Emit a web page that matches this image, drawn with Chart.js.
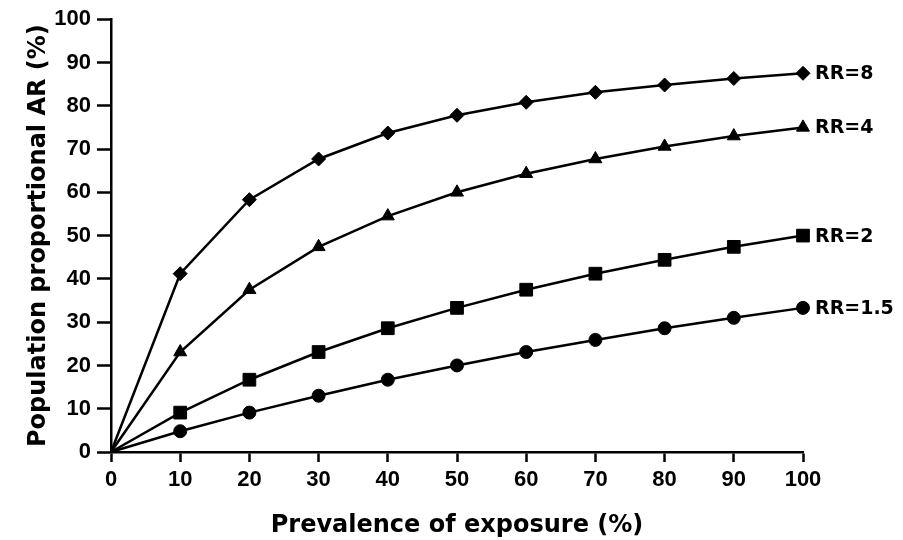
<!DOCTYPE html>
<html>
<head>
<meta charset="utf-8">
<script src="https://cdn.jsdelivr.net/npm/chart.js@4"></script>
<style>
  html, body { margin: 0; padding: 0; background: #fff; }
  #wrap { width: 903px; height: 540px; position: relative; }
</style>
</head>
<body>
<div id="wrap"><canvas id="c" width="903" height="540"></canvas></div>
<script>
const prevalence = [0, 10, 20, 30, 40, 50, 60, 70, 80, 90, 100];
const xTicks = [0, 10, 20, 30, 40, 50, 60, 70, 80, 90, 100];
const yTicks = [0, 10, 20, 30, 40, 50, 60, 70, 80, 90, 100];
const seriesLabels = ['RR=8', 'RR=4', 'RR=2', 'RR=1.5'];
const rr8  = [0, 41.2, 58.3, 67.7, 73.7, 77.8, 80.8, 83.1, 84.8, 86.3, 87.5];
const rr4  = [0, 23.1, 37.5, 47.4, 54.5, 60.0, 64.3, 67.7, 70.6, 73.0, 75.0];
const rr2  = [0, 9.1, 16.7, 23.1, 28.6, 33.3, 37.5, 41.2, 44.4, 47.4, 50.0];
const rr15 = [0, 4.8, 9.1, 13.0, 16.7, 20.0, 23.1, 25.9, 28.6, 31.0, 33.3];

const FONT = "'DejaVu Sans', 'Liberation Sans', Arial, sans-serif";
const TICKFONT = "'Liberation Sans', Arial, sans-serif";
const toPts = arr => arr.map((v, i) => ({ x: prevalence[i], y: v }));

function ds(label, data, style, radius) {
  return {
    label,
    data: toPts(data),
    borderColor: '#000',
    backgroundColor: '#000',
    borderWidth: 2.5,
    pointStyle: style,
    pointRadius: ctx => ctx.dataIndex === 0 ? 0 : radius,
    pointHoverRadius: ctx => ctx.dataIndex === 0 ? 0 : radius,
    pointBorderWidth: 1,
    tension: 0,
    clip: false
  };
}

const endLabels = {
  id: 'endLabels',
  afterDatasetsDraw(chart) {
    const { ctx } = chart;
    const xs = chart.scales.x, ys = chart.scales.y;
    ctx.save();
    ctx.fillStyle = '#000';
    ctx.font = "bold 19px " + FONT;
    ctx.textAlign = 'left';
    ctx.textBaseline = 'middle';
    chart.data.datasets.forEach(d => {
      const last = d.data[d.data.length - 1];
      ctx.fillText(d.label, xs.getPixelForValue(last.x) + 12, ys.getPixelForValue(last.y) + 1);
    });
    ctx.restore();
  }
};

new Chart(document.getElementById('c'), {
  type: 'line',
  data: {
    datasets: [
      ds(seriesLabels[0], rr8, 'rectRot', 7),
      ds(seriesLabels[1], rr4, 'triangle', 7.5),
      ds(seriesLabels[2], rr2, 'rect', 9),
      ds(seriesLabels[3], rr15, 'circle', 6.5)
    ]
  },
  options: {
    responsive: false,
    animation: false,
    events: [],
    layout: { padding: { top: 16, right: 100, left: 0, bottom: 0 } },
    plugins: { legend: { display: false }, tooltip: { enabled: false } },
    scales: {
      x: {
        type: 'linear',
        min: 0, max: 100,
        afterBuildTicks: s => { s.ticks = xTicks.map(v => ({ value: v })); },
        afterFit: s => { s.height = 88; },
        grid: { drawOnChartArea: false, drawTicks: true, tickLength: 10, tickWidth: 2.5, tickColor: '#000' },
        border: { display: true, color: '#000', width: 2.5 },
        ticks: { color: '#000', padding: 5, maxRotation: 0, font: { family: TICKFONT, size: 22, weight: 'bold' } },
        title: { display: true, text: 'Prevalence of exposure (%)', color: '#000', padding: { top: 0, bottom: 0 }, font: { family: FONT, size: 24, weight: 'bold' } }
      },
      y: {
        min: 0, max: 100,
        afterBuildTicks: s => { s.ticks = yTicks.map(v => ({ value: v })); },
        afterFit: s => { s.width = 111; },
        grid: { drawOnChartArea: false, drawTicks: true, tickLength: 14, tickWidth: 2.5, tickColor: '#000' },
        border: { display: true, color: '#000', width: 2.5 },
        ticks: { color: '#000', padding: 6, font: { family: TICKFONT, size: 22, weight: 'bold' } },
        title: { display: true, text: 'Population proportional AR (%)', color: '#000', padding: { top: 24, bottom: 0 }, font: { family: FONT, size: 24, weight: 'bold' } }
      }
    }
  },
  plugins: [endLabels]
});
</script>
</body>
</html>
